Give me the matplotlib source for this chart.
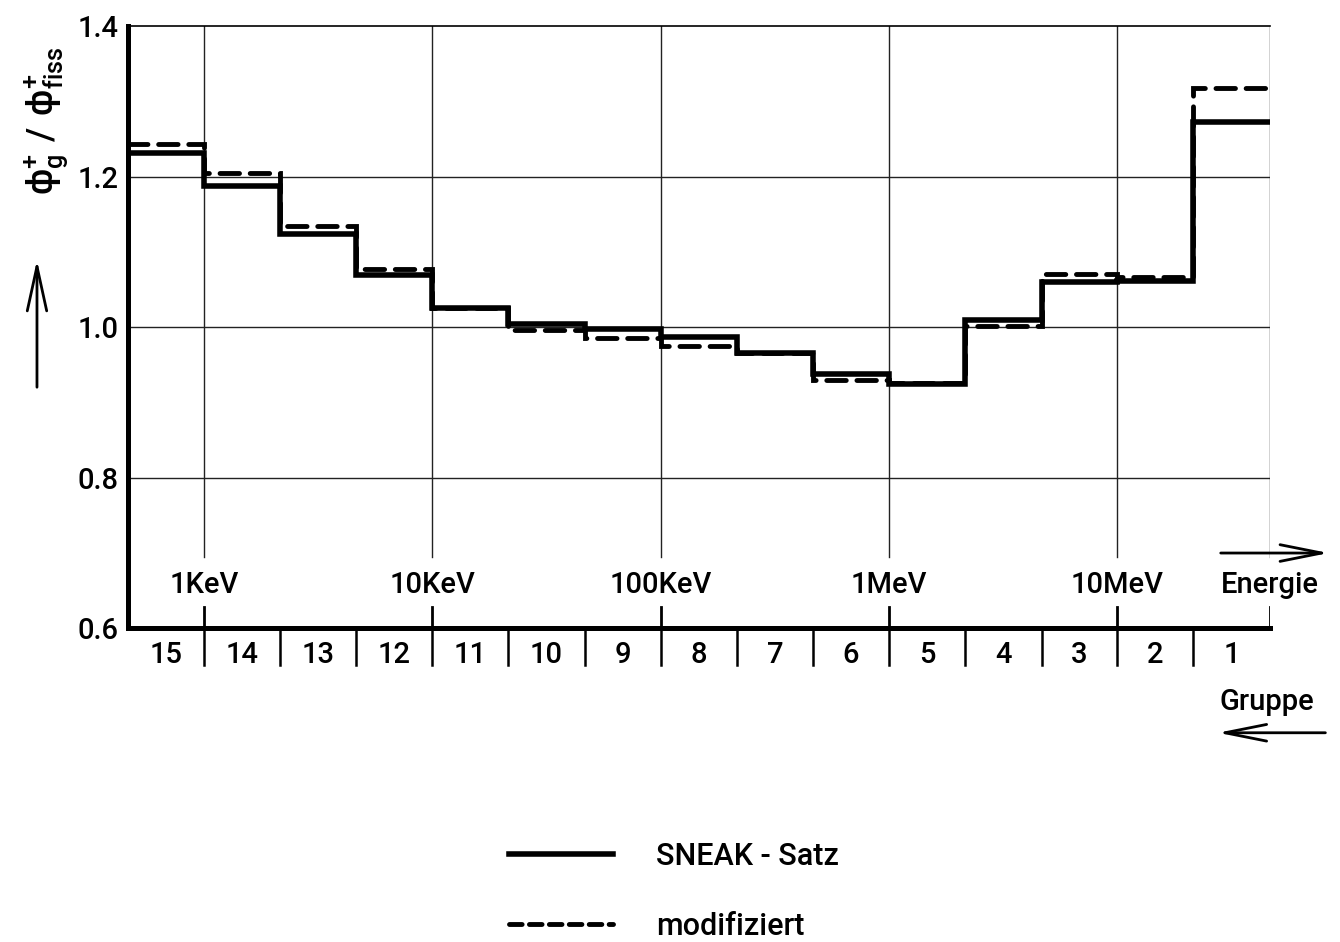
import matplotlib
matplotlib.use("Agg")
import matplotlib.pyplot as plt
from matplotlib.lines import Line2D
from matplotlib.patches import FancyArrowPatch
import numpy as np

plt.rcParams['font.family'] = ['Roboto', 'DejaVu Sans']
plt.rcParams['font.weight'] = 'medium'
plt.rcParams['mathtext.default'] = 'regular'

# Group boundaries (keV), ascending energy: group 15 ... group 1
edges_kev = [0.465, 1.0, 2.15, 4.65, 10.0, 21.5, 46.5, 100.0, 215.0, 465.0,
             1000.0, 2150.0, 4650.0, 10000.0, 21500.0, 46500.0]
groups = [15, 14, 13, 12, 11, 10, 9, 8, 7, 6, 5, 4, 3, 2, 1]

# Adjoint flux ratio per group (same order as groups)
sneak = [1.231, 1.187, 1.124, 1.069, 1.025, 1.004, 0.997, 0.987, 0.966,
         0.938, 0.924, 1.010, 1.060, 1.061, 1.272]
modified = [1.243, 1.205, 1.134, 1.077, 1.025, 0.996, 0.985, 0.975, 0.966,
            0.930, 0.926, 1.002, 1.071, 1.066, 1.318]

decade_pos = [1.0, 10.0, 100.0, 1000.0, 10000.0]
decade_labels = ["1KeV", "10KeV", "100KeV", "1MeV", "10MeV"]
yticks = [0.6, 0.8, 1.0, 1.2, 1.4]

fig = plt.figure(figsize=(13.4, 9.42), dpi=100)
ax = fig.add_axes([0.0955, 0.3333, 0.8522, 0.639])
ax.set_xscale('log')
ax.set_xlim(edges_kev[0], edges_kev[-1])
ax.set_ylim(0.6, 1.4)

# frame
for s in ('left', 'bottom'):
    ax.spines[s].set_linewidth(3.6)
ax.spines['top'].set_linewidth(1.2)
ax.spines['right'].set_visible(False)

ax.set_xticks([])
ax.set_xticks([], minor=True)
ax.set_yticks(yticks)
ax.set_yticklabels([f"{v:.1f}" for v in yticks], fontsize=21)
ax.tick_params(axis='y', length=0, pad=7)

grid_kw = dict(color='#222222', lw=1.0)
# horizontal grid
for v in yticks[1:-1]:
    ax.axhline(v, **grid_kw, zorder=1)
# vertical grid at decades and at the right edge
for e in decade_pos + [edges_kev[-1]]:
    ax.plot([e, e], [0.694, 1.4], **grid_kw, zorder=1)
    ax.plot([e, e], [0.6, 0.628], color='black', lw=2.0, zorder=1)

# group boundary ticks below the axis
trans = ax.get_xaxis_transform()
for e in edges_kev[1:-1]:
    ax.plot([e, e], [-0.062, 0.0], color='black', lw=1.8, transform=trans,
            clip_on=False)

# group numbers
for i, g in enumerate(groups):
    xc = np.sqrt(edges_kev[i] * edges_kev[i + 1])
    ax.text(xc, -0.045, str(g), transform=trans, ha='center', va='center',
            fontsize=21)

# energy labels
for e, lab in zip(decade_pos, decade_labels):
    ax.text(e, 0.071, lab, transform=trans, ha='center', va='center',
            fontsize=21)

ax.text(1.0, 0.071, "Energie", transform=ax.transAxes, ha='center',
        va='center', fontsize=21)
ax.text(0.997, -0.123, "Gruppe", transform=ax.transAxes, ha='center',
        va='center', fontsize=21)
arrow_style = '->,head_length=1.5,head_width=0.3'
for start, end in [((0.9545, 0.1246), (1.054, 0.1246)),
                   ((1.051, -0.174), (0.952, -0.174))]:
    ax.add_artist(FancyArrowPatch(start, end, transform=ax.transAxes,
                                  arrowstyle=arrow_style, mutation_scale=20,
                                  lw=2.0, color='black', clip_on=False))

# step curves
h1 = ax.stairs(sneak, edges_kev, baseline=None, color='black', lw=4.0,
               zorder=3, label='SNEAK - Satz')
h1.set_joinstyle('miter')
h2 = ax.stairs(modified, edges_kev, baseline=None, color='black', lw=3.5,
               linestyle=(0, (4, 2.2)), zorder=4, label='modifiziert')
h2.set_capstyle('round')

# y label with upward arrow
fig.text(0.034, 0.872, r'$\phi^{+}_{g}\ /\ \phi^{+}_{fiss}$', rotation=90,
         ha='center', va='center', fontsize=26)
fig.add_artist(FancyArrowPatch(
    (0.0276, 0.586), (0.0276, 0.727), transform=fig.transFigure,
    arrowstyle='->,head_length=1.6,head_width=0.35', mutation_scale=20,
    lw=2.0, color='black'))

# legend
handles = [Line2D([], [], color='black', lw=4.0),
           Line2D([], [], color='black', lw=3.5, linestyle=(0, (2.6, 1.5)),
                  dash_capstyle='round')]
fig.legend(handles, ['SNEAK - Satz', 'modifiziert'], loc='upper left',
           bbox_to_anchor=(0.380, 0.106), frameon=False, fontsize=22,
           handlelength=3.4, handletextpad=1.4, labelspacing=1.33,
           borderaxespad=0, borderpad=0)

fig.savefig('out.png', dpi=100)
